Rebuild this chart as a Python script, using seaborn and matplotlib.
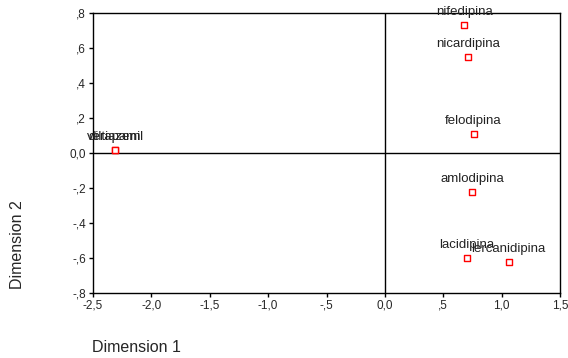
import matplotlib
matplotlib.use("Agg")
import matplotlib.pyplot as plt
import seaborn as sns
import pandas as pd

# data
drugs = ["verapamil", "diltiazem", "nifedipina", "nicardipina", "felodipina",
         "amlodipina", "lacidipina", "lercanidipina"]
dim1 = [-2.31, -2.31, 0.68, 0.71, 0.76, 0.75, 0.70, 1.06]
dim2 = [0.02, 0.02, 0.73, 0.55, 0.11, -0.22, -0.60, -0.62]
xticks = [-2.5, -2.0, -1.5, -1.0, -0.5, 0.0, 0.5, 1.0, 1.5]
xticklabels = ["-2,5", "-2,0", "-1,5", "-1,0", "-,5", "0,0", ",5", "1,0", "1,5"]
yticks = [-0.8, -0.6, -0.4, -0.2, 0.0, 0.2, 0.4, 0.6, 0.8]
yticklabels = ["-,8", "-,6", "-,4", "-,2", "0,0", ",2", ",4", ",6", ",8"]

df = pd.DataFrame({"drug": drugs, "Dimension 1": dim1, "Dimension 2": dim2})

sns.set_style("white")
plt.rcParams["font.family"] = ["Liberation Sans", "DejaVu Sans"]

fig = plt.figure(figsize=(5.68, 3.58), dpi=100)
ax = fig.add_axes([93/568, 1 - 293/358, (560-93)/568, (293-13)/358])

ax.axvline(0, color="black", lw=1.0, zorder=1)
ax.axhline(0, color="black", lw=1.0, zorder=1)

sns.scatterplot(data=df, x="Dimension 1", y="Dimension 2", ax=ax,
                marker="s", s=14, facecolor="white", edgecolor="red",
                linewidth=1.0, zorder=3)

for _, r in df.iterrows():
    ax.annotate(r["drug"], (r["Dimension 1"], r["Dimension 2"]),
                xytext=(0, 13), textcoords="offset pixels",
                ha="center", va="center", fontsize=9.5, color="#222222", zorder=4)

ax.set_xlim(-2.5, 1.5)
ax.set_ylim(-0.8, 0.8)
ax.set_xticks(xticks)
ax.set_xticklabels(xticklabels)
ax.set_yticks(yticks)
ax.set_yticklabels(yticklabels)
ax.tick_params(axis="both", direction="out", length=3, width=1, color="black",
               labelsize=8.5, pad=2, bottom=True, left=True)
for sp in ax.spines.values():
    sp.set_color("black")
    sp.set_linewidth(1.0)
ax.set_xlabel("")
ax.set_ylabel("")

fig.text(92/568, 1 - 348/358, "Dimension 1", fontsize=11.5, ha="left", va="center")
fig.text(18/568, 1 - 245/358, "Dimension 2", fontsize=11.5, ha="center", va="center",
         rotation=90)

fig.savefig("out.png", dpi=100)
